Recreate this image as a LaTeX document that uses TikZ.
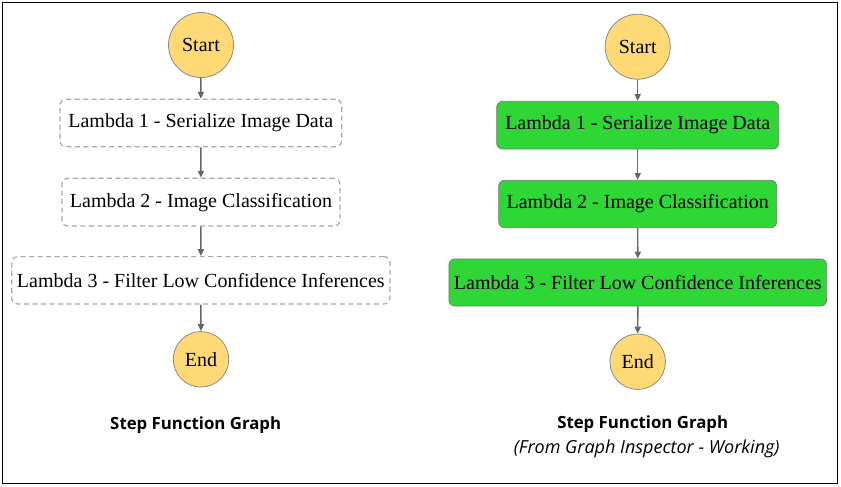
\documentclass[tikz,border=0pt]{standalone}
\usepackage{fontspec}
\setmainfont{Liberation Serif}
\newfontfamily\titlefont{Open Sans}
\usetikzlibrary{arrows.meta}
\definecolor{startfill}{HTML}{FFD976}
\definecolor{circstroke}{HTML}{8A8A8A}
\definecolor{okgreen}{HTML}{2ED636}
\definecolor{greenstroke}{HTML}{7A7A7A}
\definecolor{dashgray}{HTML}{A8A8A8}
\definecolor{arrowgray}{HTML}{666666}
\tikzset{
  statecirc/.style={circle, draw=circstroke, line width=0.6pt, fill=startfill, inner sep=0pt, font=\fontsize{15pt}{18pt}\selectfont},
  dashbox/.style={rectangle, rounded corners=4.5pt, draw=dashgray, line width=0.9pt, dash pattern=on 3.8pt off 2.6pt, fill=white, inner sep=0pt, font=\fontsize{15pt}{18pt}\selectfont},
  greenbox/.style={rectangle, rounded corners=4.5pt, draw=greenstroke, line width=0.6pt, fill=okgreen, inner sep=0pt, font=\fontsize{15pt}{18pt}\selectfont},
  flow/.style={draw=arrowgray, line width=1.1pt, -{Triangle[length=5.2pt,width=4.6pt]}},
  titletext/.style={font=\titlefont\bfseries\fontsize{12.6pt}{15pt}\selectfont},
  subtext/.style={font=\titlefont\itshape\fontsize{13.5pt}{16pt}\selectfont},
}
\begin{document}
\begin{tikzpicture}[x=0.75pt,y=-0.75pt]
\useasboundingbox (0,0) rectangle (841,486);
\draw[black, line width=1.1pt] (2.5,2.5) rectangle (837.5,483.5);
% left graph
\node[statecirc, minimum size=48.75pt] (ls) at (201,45) {Start};
\node[dashbox, minimum width=211.3pt, minimum height=35.5pt] (l1) at (200.8,123) {Lambda 1 - Serialize Image Data};
\node[dashbox, minimum width=208.5pt, minimum height=35.8pt] (l2) at (201,202.2) {Lambda 2 - Image Classification};
\node[dashbox, minimum width=283.7pt, minimum height=35.5pt] (l3) at (200.8,280.3) {Lambda 3 - Filter Low Confidence Inferences};
\node[statecirc, minimum size=41.6pt] (le) at (201,359.3) {End};
\draw[flow] (ls) -- (l1);
\draw[flow] (l1) -- (l2);
\draw[flow] (l2) -- (l3);
\draw[flow] (l3) -- (le);
\node[titletext] (lt) at (195.7,425) {Step Function Graph};
% right graph
\node[statecirc, minimum size=48.75pt] (rs) at (637.7,46.7) {Start};
\node[greenbox, minimum width=211.5pt, minimum height=35.8pt] (r1) at (637.7,125.2) {Lambda 1 - Serialize Image Data};
\node[greenbox, minimum width=208.5pt, minimum height=35.5pt] (r2) at (637.7,204) {Lambda 2 - Image Classification};
\node[greenbox, minimum width=283.3pt, minimum height=35.3pt] (r3) at (637.8,282.5) {Lambda 3 - Filter Low Confidence Inferences};
\node[statecirc, minimum size=41.6pt] (re) at (637.7,361.7) {End};
\draw[flow] (rs) -- (r1);
\draw[flow] (r1) -- (r2);
\draw[flow] (r2) -- (r3);
\draw[flow] (r3) -- (re);
\node[titletext] (rt) at (642.7,424) {Step Function Graph};
\node[subtext] (rsub) at (646.7,449.3) {(From Graph Inspector - Working)};
\end{tikzpicture}
\end{document}
